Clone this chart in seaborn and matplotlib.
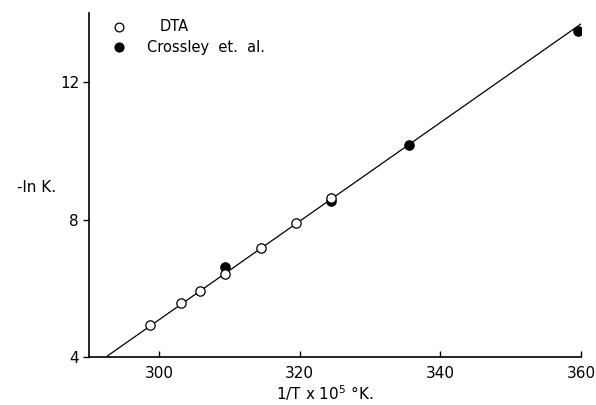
import pandas as pd
import matplotlib.pyplot as plt
import seaborn as sns

# values
dta_x = [298.7, 303.1, 305.8, 309.4, 314.5, 319.5, 324.5]
dta_y = [4.94, 5.57, 5.93, 6.43, 7.16, 7.90, 8.63]
crossley_x = [309.4, 324.5, 335.6, 359.6]
crossley_y = [6.62, 8.53, 10.17, 13.49]
fit_x = [292.6, 360.4]
fit_y = [4.03, 13.74]

x_ticks = [300, 320, 340, 360]
y_ticks = [4, 8, 12]

sns.set_style("white")
plt.rcParams['font.family'] = ['DejaVu Sans']
plt.rcParams['text.color'] = 'black'
plt.rcParams['xtick.color'] = 'black'
plt.rcParams['ytick.color'] = 'black'

df = pd.concat([
    pd.DataFrame({"x": crossley_x, "y": crossley_y, "src": "Crossley et. al."}),
    pd.DataFrame({"x": dta_x, "y": dta_y, "src": "DTA"}),
])
fit = pd.DataFrame({"x": fit_x, "y": fit_y})

fig = plt.figure(figsize=(5.96, 4.05), dpi=100)
ax = fig.add_axes([0.149, 0.118, 0.826, 0.85])

sns.lineplot(data=fit, x="x", y="y", color="black", linewidth=0.9, ax=ax)

crossley = df[df["src"] == "Crossley et. al."]
dta = df[df["src"] == "DTA"]
sns.scatterplot(data=crossley, x="x", y="y", s=45, color="black",
                edgecolor="black", linewidth=0.9, ax=ax, zorder=3)
sns.scatterplot(data=dta, x="x", y="y", s=45, color="white",
                edgecolor="black", linewidth=0.9, ax=ax, zorder=4)

ax.set_xlim(290, 360)
ax.set_ylim(4, 14)
ax.set_xticks(x_ticks)
ax.set_yticks(y_ticks)
ax.set_xticklabels([str(t) for t in x_ticks])
ax.set_yticklabels([str(t) for t in y_ticks])
ax.tick_params(axis="x", bottom=True, direction="in", length=4, width=1,
               labelsize=11, pad=6, colors="black")
ax.tick_params(axis="y", left=True, direction="out", length=4, width=1,
               labelsize=11, pad=3, colors="black")

sns.despine(ax=ax)
for sp in ["left", "bottom"]:
    ax.spines[sp].set_color("black")
    ax.spines[sp].set_linewidth(1.2)

ax.set_xlabel("")
ax.set_ylabel("")
fig.text(0.545, 0.03, "1/T x 10$^5$ °K.", ha="center", va="center", fontsize=11)
fig.text(0.062, 0.538, "-ln K.", ha="center", va="center", fontsize=11)

# legend drawn by hand in axes space (like the original lettering)
ax.scatter([0.062], [0.960], s=40, facecolor="white", edgecolor="black",
           linewidth=0.9, transform=ax.transAxes, clip_on=False)
ax.scatter([0.062], [0.900], s=40, facecolor="black", edgecolor="black",
           transform=ax.transAxes, clip_on=False)
ax.text(0.144, 0.960, "DTA", transform=ax.transAxes, va="center", fontsize=10.5)
ax.text(0.118, 0.900, "Crossley  et.  al.", transform=ax.transAxes, va="center", fontsize=10.5)

plt.savefig("out.png", dpi=100)
